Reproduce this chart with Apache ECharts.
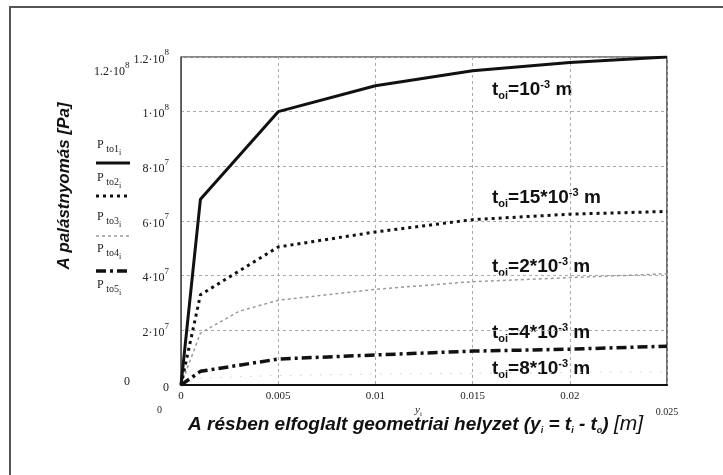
<!DOCTYPE html>
<html><head><meta charset="utf-8">
<script src="https://cdn.jsdelivr.net/npm/echarts@6/dist/echarts.min.js"></script>
<style>html,body{margin:0;padding:0;background:#fff}#c{width:723px;height:475px}</style>
</head><body><div id="c"></div>
<script>
// ---- data ----
const xMain = [0, 0.001, 0.005, 0.01, 0.015, 0.02, 0.025];
const p1 = [0, 6.8e7, 1.0e8, 1.095e8, 1.15e8, 1.18e8, 1.2e8];
const p2 = [0, 3.3e7, 5.05e7, 5.6e7, 6.05e7, 6.25e7, 6.35e7];
const x3 = [0, 0.001, 0.002, 0.003, 0.005, 0.01, 0.015, 0.02, 0.025];
const p3 = [0, 1.9e7, 2.3e7, 2.7e7, 3.1e7, 3.5e7, 3.78e7, 3.93e7, 4.07e7];
const p4 = [0, 5e6, 9.5e6, 1.1e7, 1.24e7, 1.31e7, 1.42e7];
const p5 = [0, 2.5e6, 3.5e6, 4e6, 4.3e6, 4.6e6, 4.8e6];
const seriesNames = ['to1', 'to2', 'to3', 'to4', 'to5'];
const yTickBase = ['0', '2·10', '4·10', '6·10', '8·10', '1·10', '1.2·10'];
const yTickExp  = ['', '7', '7', '7', '7', '8', '8'];
const xTickLabels = ['0', '0.005', '0.01', '0.015', '0.02', '0.025'];
const annotations = [
  {v: '10', s: 'oi', e: '-3', top: 79},
  {v: '15*10', s: 'oi', e: '-3', top: 187},
  {v: '2*10', s: 'oi', e: '-3', top: 256},
  {v: '4*10', s: 'oi', e: '-3', top: 322},
  {v: '8*10', s: 'oi', e: '-3', top: 358}
];

const pairs = (xs, ys) => xs.map((x, i) => [x, ys[i]]);
const serif = 'Liberation Serif';
const sans = 'Liberation Sans';

const styles = [
  {color: '#111', width: 3, type: 'solid'},
  {color: '#111', width: 3, type: [3, 4]},
  {color: '#9a9a9a', width: 1.5, type: [3, 3]},
  {color: '#111', width: 3.5, type: [10, 4, 3, 4]},
  {color: '#d8d8d8', width: 1, type: [2, 8]}
];

const chart = echarts.init(document.getElementById('c'));

const legendGraphics = [];
const legendTops = [139, 172, 211, 243, 279];
const sampleY = [163, 196, 236, 271, 300];
seriesNames.forEach((n, i) => {
  legendGraphics.push({
    type: 'text', left: 97, top: legendTops[i],
    style: {
      text: '{p|P}{s| ' + n + '}{ss|i}',
      rich: {
        p: {fontFamily: serif, fontSize: 12, lineHeight: 15, verticalAlign: 'top', fill: '#222'},
        s: {fontFamily: serif, fontSize: 10, lineHeight: 10, padding: [5, 0, 0, 0], verticalAlign: 'top', fill: '#222'},
        ss: {fontFamily: serif, fontSize: 8, lineHeight: 8, padding: [10, 0, 0, 0], verticalAlign: 'top', fill: '#222'}
      }
    }
  });
  if (i < 4) {
    legendGraphics.push({
      type: 'line', shape: {x1: 96, y1: sampleY[i], x2: 130, y2: sampleY[i]},
      style: {stroke: styles[i].color, lineWidth: styles[i].width,
        lineDash: styles[i].type === 'solid' ? null : styles[i].type}
    });
  }
});

const annGraphics = annotations.map(a => ({
  type: 'text', left: 492, top: a.top,
  style: {
    text: '{t|t}{s|' + a.s + '}{t|=' + a.v + '}{e|' + a.e + '}{t| m}',
    rich: {
      t: {fontFamily: sans, fontWeight: 'bold', fontSize: 19, lineHeight: 22, verticalAlign: 'middle', fill: '#111'},
      s: {fontFamily: sans, fontWeight: 'bold', fontSize: 11, lineHeight: 11, verticalAlign: 'bottom', fill: '#111'},
      e: {fontFamily: sans, fontWeight: 'bold', fontSize: 11, lineHeight: 11, verticalAlign: 'top', fill: '#111'}
    }
  }
}));

const titleRich = {
  a: {fontFamily: sans, fontWeight: 'bold', fontStyle: 'italic', fontSize: 19, lineHeight: 22, verticalAlign: 'middle', fill: '#111'},
  sb: {fontFamily: sans, fontWeight: 'bold', fontStyle: 'italic', fontSize: 9, lineHeight: 9, verticalAlign: 'bottom', fill: '#111'},
  m: {fontFamily: sans, fontStyle: 'italic', fontSize: 21, lineHeight: 22, verticalAlign: 'middle', fill: '#111'}
};

const makeSeries = (i, data) => ({
  name: 'P ' + seriesNames[i], type: 'line', data: data, showSymbol: false, symbol: 'none',
  lineStyle: {color: styles[i].color, width: styles[i].width, type: styles[i].type},
  z: 5 - i
});

chart.setOption({
  animation: false,
  backgroundColor: '#fff',
  grid: {left: 181, right: 56, top: 57, bottom: 90, show: true, borderColor: '#111', borderWidth: 1.2},
  xAxis: {
    type: 'value', min: 0, max: 0.025, interval: 0.005,
    axisLine: {show: true, lineStyle: {color: '#111', width: 2}},
    axisTick: {show: false},
    splitLine: {show: true, lineStyle: {color: '#aaa', type: [3, 3], width: 1}},
    axisLabel: {
      fontFamily: serif, fontSize: 11, color: '#222', margin: 6,
      formatter: (v) => {
        const idx = Math.round(v / 0.005);
        const t = xTickLabels[idx];
        return idx === 5 ? '{f|' + t + '}' : t;
      },
      rich: {f: {fontFamily: serif, fontSize: 10, color: '#222', padding: [16, 0, 0, 0]}}
    }
  },
  yAxis: {
    type: 'value', min: 0, max: 1.2e8, interval: 2e7,
    axisLine: {show: true, lineStyle: {color: '#555', width: 1}},
    axisTick: {show: false},
    splitLine: {show: true, lineStyle: {color: '#aaa', type: [3, 3], width: 1}},
    axisLabel: {
      margin: 12, color: '#222',
      formatter: (v) => {
        const idx = Math.round(v / 2e7);
        return '{b|' + yTickBase[idx] + '}' + (yTickExp[idx] ? '{s|' + yTickExp[idx] + '}' : '');
      },
      rich: {
        b: {fontFamily: serif, fontSize: 12, lineHeight: 17, verticalAlign: 'bottom', color: '#222'},
        s: {fontFamily: serif, fontSize: 9, lineHeight: 9, verticalAlign: 'top', color: '#222'}
      }
    }
  },
  series: [
    makeSeries(0, pairs(xMain, p1)),
    makeSeries(1, pairs(xMain, p2)),
    makeSeries(2, pairs(x3, p3)),
    makeSeries(3, pairs(xMain, p4)),
    makeSeries(4, pairs(xMain, p5))
  ],
  graphic: [
    {type: 'rect', shape: {x: 10, y: 7, width: 760, height: 520}, style: {fill: 'none', stroke: '#555', lineWidth: 2}, silent: true},
    {type: 'text', left: 94, top: 61, style: {text: '{b|1.2·10}{s|8}', rich: {
      b: {fontFamily: serif, fontSize: 12, lineHeight: 17, verticalAlign: 'bottom', fill: '#222'},
      s: {fontFamily: serif, fontSize: 9, lineHeight: 9, verticalAlign: 'top', fill: '#222'}}}},
    {type: 'text', left: 124, top: 376, style: {text: '0', fontFamily: serif, fontSize: 12, fill: '#222'}},
    {type: 'text', left: 157, top: 405, style: {text: '0', fontFamily: serif, fontSize: 10, fill: '#222'}},
    {type: 'text', left: 415, top: 405, style: {text: '{y|y}{i|i}', rich: {
      y: {fontFamily: serif, fontStyle: 'italic', fontSize: 11, lineHeight: 10, verticalAlign: 'top', fill: '#222'},
      i: {fontFamily: serif, fontSize: 7, lineHeight: 13, verticalAlign: 'bottom', fill: '#222'}}}},
    {type: 'text', left: 188, top: 414, style: {
      text: '{a|A résben elfoglalt geometriai helyzet (y}{sb|i}{a| = t}{sb|i}{a| - t}{sb|o}{a|) }{m|[m]}',
      rich: titleRich}},
    {type: 'text', x: 64, y: 186, rotation: Math.PI / 2, style: {
      text: 'A palástnyomás [Pa]', fontFamily: sans, fontWeight: 'bold', fontStyle: 'italic', fontSize: 17,
      fill: '#111', align: 'center', verticalAlign: 'middle'}}
  ].concat(legendGraphics, annGraphics)
});
</script></body></html>
